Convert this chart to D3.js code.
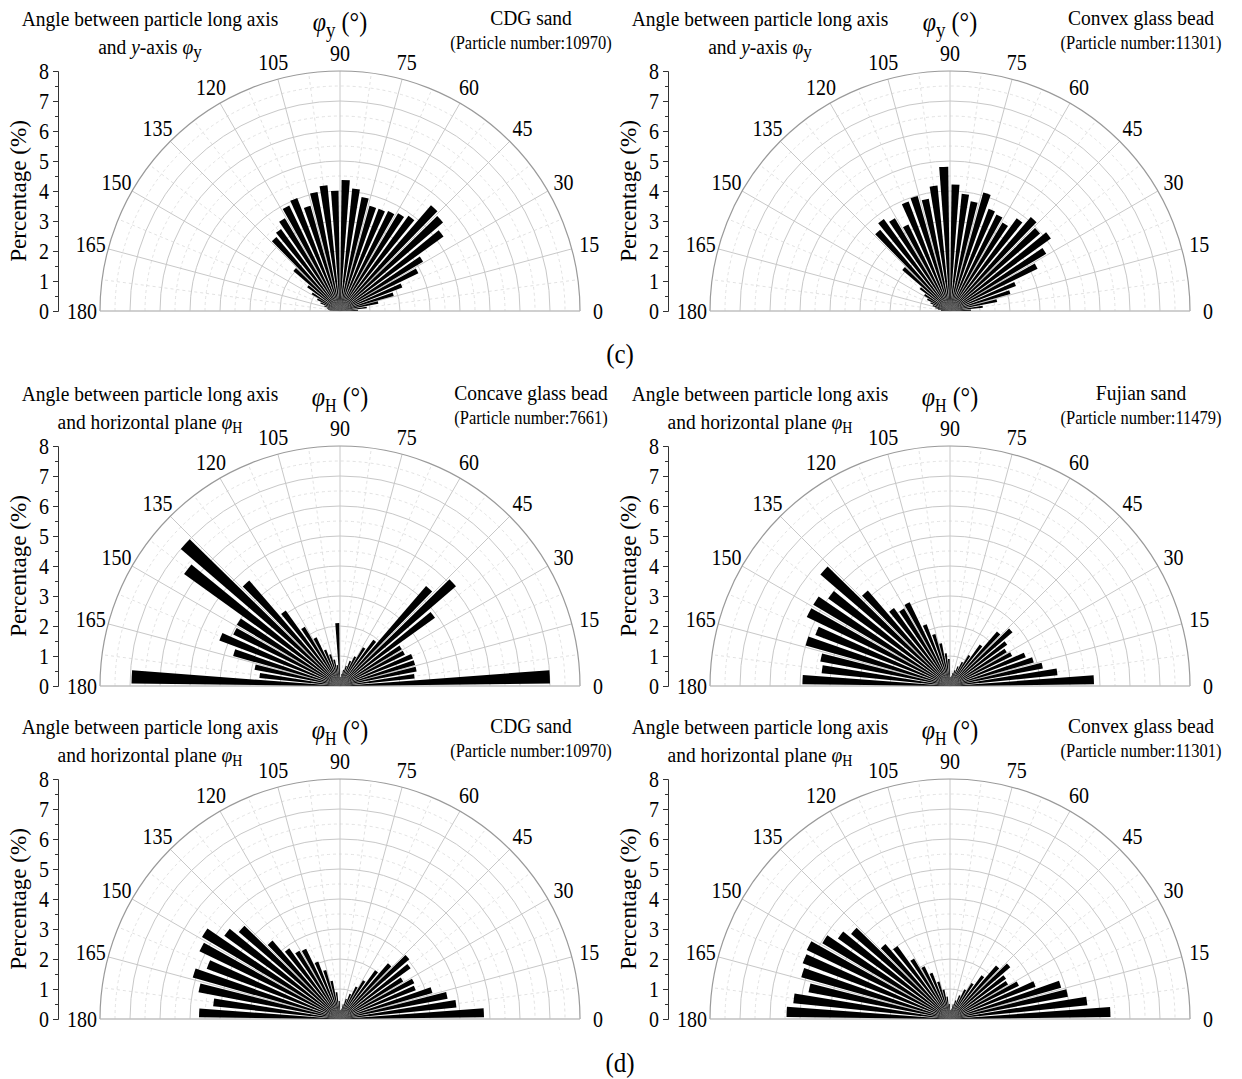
<!DOCTYPE html>
<html>
<head>
<meta charset="utf-8">
<script src="https://cdn.jsdelivr.net/npm/d3@7"></script>
<style>
  body { margin: 0; background: #fff; }
  svg { font-family: "Liberation Serif", "Times New Roman", serif; }
</style>
</head>
<body>
<svg id="chart" width="1242" height="1079"></svg>
<script>
// bin centres, 5 degree bins from 0 to 180
var bins = d3.range(2.5, 180, 5);
var angleTicks = d3.range(0, 181, 15);
var pctTicks = [0, 1, 2, 3, 4, 5, 6, 7, 8];

// percentages, listed from the 2.5 deg bin up to the 177.5 deg bin
var cdgY = [0.6, 0.9, 1.3, 1.86, 2.22, 2.9, 3.22, 4.25, 4.53, 4.65, 3.91, 3.79,
            3.7, 3.64, 3.64, 3.87, 4.1, 4.37, 4.01, 4.21, 4.04, 3.64, 4.03, 3.9,
            3.6, 3.37, 3.25, 2.05, 1.35, 1.1, 0.85, 0.7, 0.55, 0.45, 0.4, 0.35];
var convexY = [0.7, 1.1, 1.6, 2.09, 2.35, 3.24, 3.73, 4.14, 3.96, 4.13, 3.81, 3.43,
               3.57, 3.64, 4.1, 3.72, 3.93, 4.22, 4.81, 4.2, 3.81, 3.98, 3.9, 3.2,
               3.6, 3.78, 3.57, 2.1, 1.25, 1.0, 0.85, 0.7, 0.6, 0.5, 0.4, 0.3];
var concaveH = [7.0, 2.5, 2.6, 2.6, 2.6, 2.4, 2.4, 3.9, 5.1, 4.4, 1.9, 1.5,
                1.1, 0.9, 0.7, 0.55, 0.4, 0.3, 2.1, 0.7, 0.9, 1.1, 1.3, 1.8,
                2.3, 3.1, 4.64, 7.0, 6.4, 4.0, 3.95, 4.3, 3.7, 2.9, 2.7, 6.95];
var fujianH = [4.8, 3.6, 3.15, 2.9, 2.7, 2.3, 2.2, 2.35, 2.75, 2.4, 1.7, 1.2,
               0.9, 0.7, 0.55, 0.45, 0.35, 0.3, 0.9, 1.1, 1.45, 1.8, 2.2, 3.1,
               3.0, 3.2, 4.2, 5.7, 5.0, 5.3, 5.3, 4.8, 5.0, 4.4, 4.3, 4.92];
var cdgH = [4.8, 3.9, 3.65, 3.2, 2.7, 2.75, 2.45, 2.9, 3.05, 2.45, 2.0, 1.5,
            1.2, 0.9, 0.7, 0.5, 0.35, 0.3, 0.6, 0.9, 1.3, 1.7, 2.05, 2.6,
            2.65, 2.9, 3.45, 4.45, 4.75, 5.35, 5.2, 4.75, 5.1, 4.8, 4.25, 4.7];
var convexH = [5.35, 4.6, 4.0, 3.85, 3.05, 2.55, 2.25, 2.3, 2.65, 2.35, 1.8, 1.4,
               1.1, 0.85, 0.65, 0.5, 0.35, 0.3, 0.5, 0.75, 1.0, 1.3, 1.65, 1.95,
               2.35, 3.0, 3.3, 4.35, 4.6, 4.95, 5.3, 5.25, 5.15, 4.8, 5.25, 5.45];

var panels = [
  {cx: 340, cy: 311, values: cdgY,     axis: "y", name: "CDG sand",           count: "10970"},
  {cx: 950, cy: 311, values: convexY,  axis: "y", name: "Convex glass bead",  count: "11301"},
  {cx: 340, cy: 686, values: concaveH, axis: "H", name: "Concave glass bead", count: "7661"},
  {cx: 950, cy: 686, values: fujianH,  axis: "H", name: "Fujian sand",        count: "11479"},
  {cx: 340, cy: 1019, values: cdgH,    axis: "H", name: "CDG sand",           count: "10970"},
  {cx: 950, cy: 1019, values: convexH, axis: "H", name: "Convex glass bead",  count: "11301"}
];

var svg = d3.select("#chart");
var R = 240;
var rScale = d3.scaleLinear().domain([0, 8]).range([0, R]);
var yScale = d3.scaleLinear().domain([0, 8]).range([0, -R]);
var toRad = Math.PI / 180;
var barWidth = 3.6;   // degrees
var arc = d3.arc().innerRadius(0);

function txt(g, x, y, size) {
  return g.append("text")
    .attr("transform", "translate(" + x + "," + y + ") scale(1,1.12)")
    .attr("font-size", size)
    .attr("font-family", '"Liberation Serif", "Times New Roman", serif')
    .attr("fill", "#000")
    .attr("text-anchor", "middle")
    .attr("dy", "0.35em");
}

function halfCircle(r) {
  return "M" + (-r) + ",0A" + r + "," + r + " 0 0 1 " + r + ",0";
}

panels.forEach(function(p) {
  var g = svg.append("g").attr("transform", "translate(" + p.cx + "," + p.cy + ")");

  // minor rings
  g.selectAll(".minor-ring")
    .data(d3.range(0.5, 8, 1))
    .enter().append("path")
    .attr("d", function(d) { return halfCircle(rScale(d)); })
    .attr("fill", "none").attr("stroke", "#dadada")
    .attr("stroke-dasharray", "3,3").attr("stroke-width", 0.8);

  // minor spokes
  g.selectAll(".minor-spoke")
    .data(d3.range(7.5, 180, 15))
    .enter().append("line")
    .attr("x2", function(d) { return R * Math.cos(d * toRad); })
    .attr("y2", function(d) { return -R * Math.sin(d * toRad); })
    .attr("stroke", "#dadada").attr("stroke-dasharray", "3,3").attr("stroke-width", 0.8);

  // major rings
  g.selectAll(".ring")
    .data(d3.range(1, 8))
    .enter().append("path")
    .attr("d", function(d) { return halfCircle(rScale(d)); })
    .attr("fill", "none").attr("stroke", "#c8c8c8").attr("stroke-width", 1);

  // major spokes
  g.selectAll(".spoke")
    .data(angleTicks)
    .enter().append("line")
    .attr("x2", function(d) { return R * Math.cos(d * toRad); })
    .attr("y2", function(d) { return -R * Math.sin(d * toRad); })
    .attr("stroke", "#c8c8c8").attr("stroke-width", 1);

  // outer ring
  g.append("path").attr("d", halfCircle(R))
    .attr("fill", "none").attr("stroke", "#9a9a9a").attr("stroke-width", 1.2);
  g.append("line").attr("x1", -R).attr("x2", R)
    .attr("stroke", "#bdbdbd").attr("stroke-width", 1);

  // bars
  g.selectAll(".bar")
    .data(bins.map(function(b, i) { return {angle: b, value: p.values[i]}; }))
    .enter().append("path")
    .attr("d", function(d) {
      return arc({
        outerRadius: rScale(d.value),
        startAngle: (90 - d.angle - barWidth / 2) * toRad,
        endAngle: (90 - d.angle + barWidth / 2) * toRad
      });
    })
    .attr("fill", "#000");

  // angle labels
  angleTicks.forEach(function(a) {
    txt(g, 258 * Math.cos(a * toRad), -258 * Math.sin(a * toRad), 20).text(a);
  });

  // percentage axis
  var ax = g.append("g").attr("transform", "translate(-282,0)");
  ax.call(d3.axisLeft(yScale).tickValues(pctTicks).tickSize(5).tickFormat(""));
  ax.select(".domain").attr("stroke", "#333");
  ax.selectAll(".tick line").attr("stroke", "#333");
  var minor = g.append("g").attr("transform", "translate(-282,0)");
  minor.call(d3.axisLeft(yScale).tickValues(d3.range(0.5, 8, 1)).tickSize(3).tickFormat(""));
  minor.select(".domain").remove();
  minor.selectAll(".tick line").attr("stroke", "#333");
  pctTicks.forEach(function(v) {
    txt(g, -296, yScale(v), 20).text(v);
  });

  g.append("text")
    .attr("transform", "translate(-322," + (-120) + ") rotate(-90) scale(1.1,1.05)")
    .attr("font-size", 21).attr("text-anchor", "middle").attr("dy", "0.35em")
    .text("Percentage (%)");

  // titles
  txt(g, -190, -293, 19.5).text("Angle between particle long axis");
  var t2 = txt(g, -190, -265, 19.5);
  if (p.axis === "y") {
    t2.append("tspan").text("and ");
    t2.append("tspan").attr("font-style", "italic").text("y");
    t2.append("tspan").text("-axis ");
  } else {
    t2.append("tspan").text("and horizontal plane ");
  }
  t2.append("tspan").attr("font-style", "italic").text("\u03c6");
  t2.append("tspan").attr("font-size", p.axis === "y" ? 17 : 14).attr("dy", 4).text(p.axis);

  var t3 = txt(g, 0, -289, 24);
  t3.append("tspan").attr("font-style", "italic").text("\u03c6");
  t3.append("tspan").attr("font-size", p.axis === "y" ? 19 : 16).attr("dy", 5).text(p.axis);
  t3.append("tspan").attr("dy", -5).text(" (\u00b0)");

  txt(g, 191, -294, 19.5).text(p.name);
  txt(g, 191, -268, 16.5).text("(Particle number:" + p.count + ")");
});

txt(svg, 620, 353, 25).text("(c)");
txt(svg, 620, 1062, 25).text("(d)");
</script>
</body>
</html>
